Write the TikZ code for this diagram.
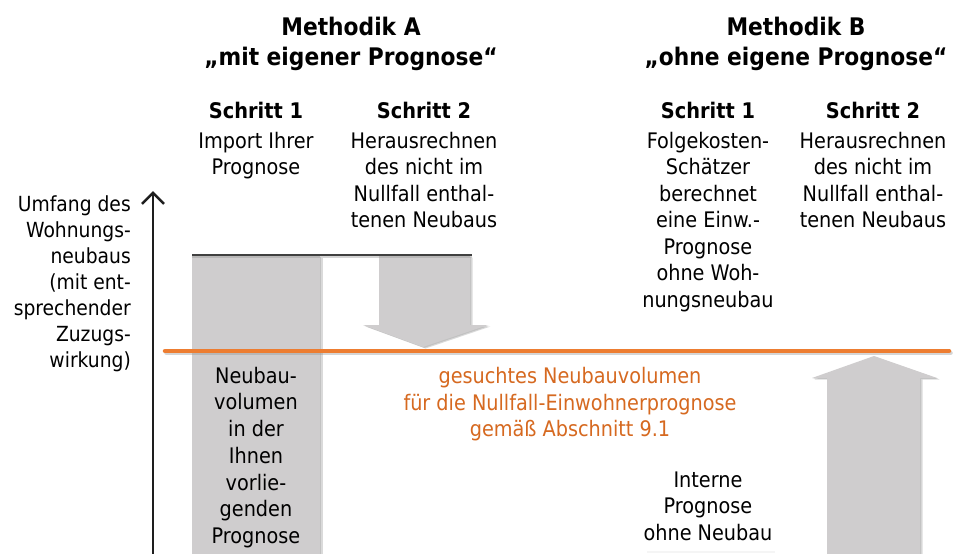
\documentclass[tikz,border=0pt]{standalone}
\usepackage{fontspec}
\setmainfont{DejaVu Sans Condensed}
\usetikzlibrary{arrows.meta}
\definecolor{barfill}{RGB}{207,205,206}
\definecolor{shadowc}{RGB}{150,150,150}
\definecolor{orangeline}{RGB}{237,125,49}
\definecolor{orangetext}{RGB}{214,105,32}
\definecolor{axisc}{RGB}{30,30,30}
\newcommand{\fls}{\rule{0pt}{22pt}}
\begin{document}
\begin{tikzpicture}[x=1pt,y=-1pt,
  txt/.style={anchor=north, yshift=22pt, inner sep=0pt, align=center},
  ttl/.style={txt, font={\bfseries\fontsize{24.2}{30}\selectfont}},
  stp/.style={txt, font={\bfseries\fontsize{21.5}{26}\selectfont}},
  body/.style={txt, font={\fontsize{21.4}{26.5}\selectfont}},
  grayshape/.style={fill=barfill, draw=none},
  shadowshape/.style={fill=shadowc, draw=none, opacity=0.35},
]
\useasboundingbox (0,0) rectangle (959,554);
\fill[white] (0,0) rectangle (959,554);

% --- shadows
\begin{scope}[xshift=2.5pt, yshift=-1.5pt]
  \fill[shadowshape] (192,256) rectangle (320,554);
  \fill[shadowshape] (379,256) -- (470,256) -- (470,325) -- (488,325) -- (423,347) -- (363,325) -- (379,325) -- cycle;
  \fill[shadowshape] (827,554) -- (827,378) -- (812,378) -- (874,356) -- (937,378) -- (920,378) -- (920,554) -- cycle;
\end{scope}
\begin{scope}[xshift=1.2pt, yshift=-0.8pt]
  \fill[shadowshape] (192,256) rectangle (320,554);
  \fill[shadowshape] (379,256) -- (470,256) -- (470,325) -- (488,325) -- (423,347) -- (363,325) -- (379,325) -- cycle;
  \fill[shadowshape] (827,554) -- (827,378) -- (812,378) -- (874,356) -- (937,378) -- (920,378) -- (920,554) -- cycle;
\end{scope}

% --- gray bar (Schritt 1, Methodik A)
\fill[grayshape] (192,256) rectangle (320,554);
% --- down arrow (Schritt 2, Methodik A)
\fill[grayshape] (379,256) -- (470,256) -- (470,325) -- (488,325) -- (423,347) -- (363,325) -- (379,325) -- cycle;
% --- up arrow (Schritt 2, Methodik B)
\fill[grayshape] (827,554) -- (827,378) -- (812,378) -- (874,356) -- (937,378) -- (920,378) -- (920,554) -- cycle;

% --- black top line
\coordinate (tl) at (192,255);
\coordinate (tr) at (472,255);
\draw[shadowc, opacity=0.4, line width=2.5pt] ([yshift=-2pt]tl) -- ([yshift=-2pt]tr);
\draw[axisc!85, line width=2.5pt] (tl) -- (tr);

% --- orange line
\coordinate (ol) at (165,351);
\coordinate (or) at (949,351);
\draw[shadowc, opacity=0.4, line width=4.5pt, line cap=round] ([xshift=1.5pt,yshift=-2pt]ol) -- ([xshift=1.5pt,yshift=-2pt]or);
\draw[orangeline, line width=4.5pt, line cap=round] (ol) -- (or);

% --- axis
\coordinate (a0) at (153,554);
\coordinate (a1) at (153,191);
\draw[axisc, line width=2.6pt, -{Straight Barb[length=11pt,width=22pt,line width=2.6pt]}] (a0) -- (a1);

% faint line under internal forecast
\coordinate (fl) at (647,552);
\coordinate (fr) at (775,552);
\draw[black!4, line width=1.2pt] (fl) -- (fr);

% --- titles
\node[ttl] (mA) at (351,35) {\fls Methodik A\\„mit eigener Prognose“};
\node[ttl] (mB) at (796,35) {\fls Methodik B\\„ohne eigene Prognose“};

\node[stp] (sA1) at (256,118) {\fls Schritt 1};
\node[stp] (sA2) at (424,118) {\fls Schritt 2};
\node[stp] (sB1) at (708,118) {\fls Schritt 1};
\node[stp] (sB2) at (873,118) {\fls Schritt 2};

\node[body] (tA1) at (256,148) {\fls Import Ihrer\\Prognose};
\node[body] (tA2) at (424,148) {\fls Herausrechnen\\des nicht im\\Nullfall enthal-\\tenen Neubaus};
\node[body] (tB1) at (708,148) {\fls Folgekosten-\\Schätzer\\berechnet\\eine Einw.-\\Prognose\\ohne Woh-\\nungsneubau};
\node[body] (tB2) at (873,148) {\fls Herausrechnen\\des nicht im\\Nullfall enthal-\\tenen Neubaus};

\node[txt, anchor=north east, align=right, font={\fontsize{20.8}{26}\selectfont}] (ax) at (131,211)
  {\fls Umfang des\\Wohnungs-\\neubaus\\(mit ent-\\sprechender\\Zuzugs-\\wirkung)};

\node[txt, font={\fontsize{21.4}{26.7}\selectfont}] (tbar) at (256,383)
  {\fls Neubau-\\volumen\\in der\\Ihnen\\vorlie-\\genden\\Prognose};

\node[txt, text=orangetext, font={\fontsize{21.4}{26.8}\selectfont}] (otext) at (570,383)
  {\fls gesuchtes Neubauvolumen\\für die Nullfall-Einwohnerprognose\\gemäß Abschnitt 9.1};

\node[txt, font={\fontsize{21.4}{26.5}\selectfont}] (tint) at (708,487)
  {\fls Interne\\Prognose\\ohne Neubau};
\end{tikzpicture}
\end{document}
